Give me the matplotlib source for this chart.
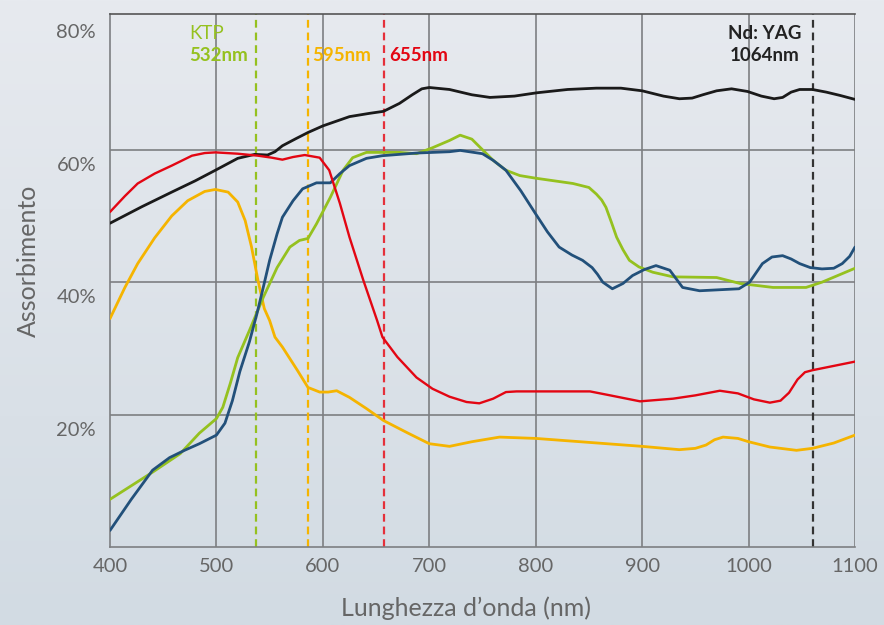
import numpy as np
import matplotlib
matplotlib.use("Agg")
import matplotlib.pyplot as plt
from matplotlib.colors import LinearSegmentedColormap
import matplotlib.transforms as mtransforms

plt.rcParams['font.family'] = ['Lato', 'DejaVu Sans']

# wavelength (nm) / absorption (%)
black_x = [400, 430, 458, 480, 499, 520, 536, 548, 555, 562, 575, 586, 600, 625, 644, 657, 672, 684, 693, 700, 719,
           740, 757, 780, 801, 830, 857, 880, 900, 920, 935, 947, 957, 970, 984, 999, 1012, 1024, 1032, 1040, 1048,
           1060, 1073, 1086, 1100]
black_y = [48.9, 51.4, 53.6, 55.3, 56.9, 58.7, 59.3, 59.2, 59.7, 60.6, 61.7, 62.6, 63.6, 65.0, 65.5, 65.8, 67.0, 68.3,
           69.2, 69.4, 69.1, 68.3, 67.9, 68.1, 68.6, 69.1, 69.3, 69.3, 68.9, 68.1, 67.7, 67.8, 68.3, 68.9, 69.2, 68.8,
           68.1, 67.7, 67.9, 68.7, 69.1, 69.1, 68.7, 68.2, 67.6]

red_x = [400, 414, 426, 442, 458, 477, 489, 499, 520, 539, 552, 562, 572, 583, 597, 606, 616, 625, 638, 651, 656,
         670, 688, 703, 719, 735, 747, 760, 772, 782, 800, 851, 870, 898, 929, 950, 973, 990, 1005, 1020, 1030,
         1038, 1046, 1053, 1060, 1100]
red_y = [50.6, 53.0, 54.9, 56.4, 57.6, 59.1, 59.5, 59.6, 59.4, 59.1, 58.8, 58.5, 58.9, 59.2, 58.8, 56.9, 51.9,
         46.8, 40.3, 34.2, 31.7, 28.7, 25.6, 23.9, 22.7, 21.9, 21.7, 22.4, 23.4, 23.5, 23.5, 23.5, 22.9, 22.0, 22.4,
         22.9, 23.6, 23.2, 22.3, 21.8, 22.1, 23.3, 25.3, 26.4, 26.7, 28.0]

yellow_x = [400, 414, 426, 442, 458, 473, 489, 499, 511, 520, 527, 533, 539, 545, 550, 555, 562, 576, 586, 597,
            605, 613, 625, 641, 657, 680, 700, 719, 740, 766, 800, 850, 900, 935, 950, 960, 968, 976, 990, 1000,
            1020, 1045, 1060, 1080, 1100]
yellow_y = [34.5, 39.2, 42.8, 46.7, 50.0, 52.3, 53.7, 54.0, 53.6, 52.1, 49.3, 45.3, 40.3, 36.0, 34.2, 31.7, 30.2,
            26.7, 24.1, 23.4, 23.4, 23.6, 22.6, 20.9, 19.1, 17.2, 15.6, 15.2, 15.9, 16.6, 16.4, 15.8, 15.2, 14.7,
            14.9, 15.4, 16.2, 16.6, 16.4, 15.9, 15.1, 14.6, 14.9, 15.7, 16.9]

green_x = [400, 440, 466, 484, 500, 506, 513, 520, 531, 544, 557, 569, 578, 586, 594, 607, 619, 628, 641, 672,
           688, 703, 719, 729, 740, 750, 760, 772, 785, 800, 835, 850, 857, 862, 866, 871, 876, 882, 888, 897,
           910, 929, 970, 992, 1023, 1054, 1069, 1100]
green_y = [7.2, 11.3, 14.1, 17.2, 19.4, 21.1, 24.7, 28.6, 32.7, 37.7, 42.2, 45.3, 46.3, 46.6, 48.8, 52.8, 56.9,
           58.8, 59.6, 59.6, 59.4, 60.3, 61.4, 62.2, 61.6, 60.0, 58.4, 56.9, 56.1, 55.7, 54.9, 54.3, 53.3, 52.4,
           51.3, 49.1, 46.8, 44.9, 43.3, 42.3, 41.5, 40.8, 40.7, 39.8, 39.2, 39.2, 40.0, 42.1]

blue_x = [400, 420, 440, 456, 470, 484, 500, 508, 515, 522, 531, 538, 544, 550, 557, 562, 572, 581, 594, 607,
          616, 625, 641, 656, 688, 719, 729, 750, 760, 772, 786, 800, 811, 822, 834, 844, 853, 858, 863, 872, 882,
          891, 902, 913, 926, 938, 954, 991, 1001, 1007, 1013, 1022, 1032, 1040, 1048, 1058, 1069, 1080, 1088,
          1095, 1100]
blue_y = [2.5, 7.2, 11.6, 13.5, 14.6, 15.6, 16.9, 18.7, 22.1, 26.5, 31.0, 35.2, 39.2, 43.3, 47.3, 49.8, 52.3,
          54.1, 55.0, 55.0, 56.4, 57.6, 58.7, 59.1, 59.5, 59.7, 59.9, 59.4, 58.4, 56.9, 53.8, 50.3, 47.6, 45.3,
          44.1, 43.3, 42.2, 41.2, 40.0, 39.0, 39.8, 41.0, 41.9, 42.5, 41.8, 39.2, 38.7, 39.0, 40.0, 41.4, 42.8,
          43.8, 44.0, 43.5, 42.8, 42.2, 42.0, 42.1, 42.8, 43.9, 45.3]

laser_pos = [537, 586, 657, 1061]
laser_colors = ['#95c11f', '#f5b400', '#e5303a', '#333333']

x_ticks = [400, 500, 600, 700, 800, 900, 1000, 1100]
y_ticks = [20, 40, 60, 80]

fig = plt.figure(figsize=(8.84, 6.25), dpi=100)

# soft background gradient
bg = fig.add_axes([0, 0, 1, 1], zorder=-10)
cmap = LinearSegmentedColormap.from_list('bg', ['#e7eaef', '#d2dbe3'])
bg.imshow(np.linspace(0, 1, 256).reshape(-1, 1), aspect='auto', cmap=cmap, extent=[0, 1, 0, 1])
bg.axis('off')

ax = fig.add_axes([110 / 884, 78 / 625, 745 / 884, 533 / 625])
ax.patch.set_alpha(0)
ax.set_xlim(400, 1100)
ax.set_ylim(0, 80.5)

grid_c = '#7d7f82'
for gx in x_ticks[1:]:
    ax.axvline(gx, color=grid_c, lw=1.2, zorder=1)
for gy in y_ticks[:-1]:
    ax.axhline(gy, color=grid_c, lw=1.2, zorder=1)

for s in ['left', 'bottom', 'top']:
    ax.spines[s].set_color(grid_c)
    ax.spines[s].set_linewidth(1.2)
ax.spines['top'].set_color('#555555')
ax.spines['right'].set_visible(False)

for pos, c in zip(laser_pos, laser_colors):
    ax.axvline(pos, color=c, lw=1.6, dashes=(3.5, 2.2), zorder=2)

lw = 2.0
style = dict(solid_joinstyle='round', solid_capstyle='round')
ax.plot(black_x, black_y, color='#1a1a1a', lw=lw, zorder=5, **style)
ax.plot(yellow_x, yellow_y, color='#f5b400', lw=lw, zorder=4, **style)
ax.plot(green_x, green_y, color='#95c11f', lw=lw, zorder=4, **style)
ax.plot(blue_x, blue_y, color='#22507a', lw=lw, zorder=4, **style)
ax.plot(red_x, red_y, color='#e30613', lw=1.7, zorder=5, **style)

ax.set_xticks(x_ticks)
ax.set_yticks(y_ticks)
ax.set_yticklabels([f'{v}%' for v in y_ticks])
ax.tick_params(length=0, labelsize=14.5, labelcolor='#666666')
ax.tick_params(axis='y', pad=10)
ax.tick_params(axis='x', pad=8)
shift = mtransforms.ScaledTranslation(0, -14 / 100, fig.dpi_scale_trans)
for lab in ax.get_yticklabels():
    lab.set_transform(lab.get_transform() + shift)

fig.text(466 / 884, 1 - 608 / 625, 'Lunghezza d\u2019onda (nm)', ha='center', va='center',
         fontsize=18, color='#666666')
fig.text(28 / 884, 1 - 261 / 625, 'Assorbimento', ha='center', va='center', rotation=90,
         fontsize=18, color='#666666')

ax.text(474, 77.5, 'KTP', color='#95c11f', fontsize=13.5, ha='left', va='center')
ax.text(474, 74.3, '532nm', color='#95c11f', fontsize=13.5, fontweight='bold', ha='left', va='center')
ax.text(590, 74.3, '595nm', color='#f5b400', fontsize=13.5, fontweight='bold', ha='left', va='center')
ax.text(662, 74.3, '655nm', color='#e30613', fontsize=13.5, fontweight='bold', ha='left', va='center')
ax.text(1015, 77.5, 'Nd: YAG', color='#222222', fontsize=13.5, fontweight='bold', ha='center', va='center')
ax.text(1015, 74.3, '1064nm', color='#222222', fontsize=13.5, fontweight='bold', ha='center', va='center')

fig.savefig('out.png', dpi=100)
